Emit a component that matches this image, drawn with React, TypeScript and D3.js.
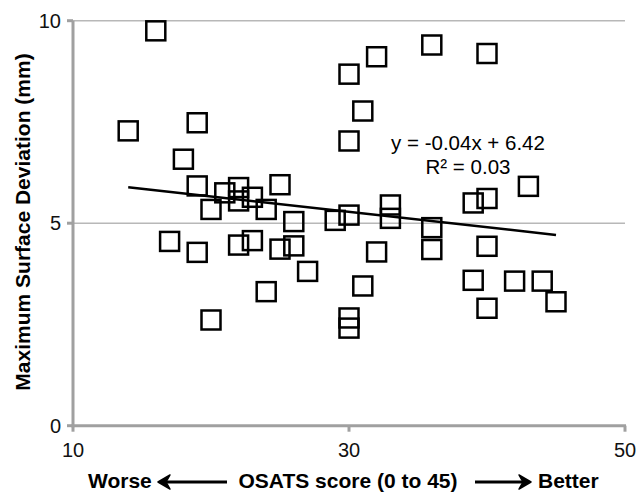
import React from "react";
import * as d3 from "d3";

const osats = [16, 14, 19, 18, 19, 21, 22, 22, 23, 20, 24, 25, 26, 17, 19, 22, 23, 25, 26, 27, 24, 20, 29, 30, 30, 32, 36, 40, 31, 30, 33, 33, 36, 39, 40, 43, 32, 36, 40, 31, 30, 30, 39, 42, 44, 45, 40];
const deviation = [9.75, 7.28, 7.48, 6.58, 5.92, 5.75, 5.88, 5.55, 5.64, 5.34, 5.34, 5.95, 5.04, 4.55, 4.28, 4.46, 4.57, 4.36, 4.44, 3.81, 3.31, 2.61, 5.07, 5.2, 8.68, 9.11, 9.4, 9.19, 7.77, 7.03, 5.45, 5.12, 4.89, 5.5, 5.61, 5.91, 4.29, 4.35, 4.43, 3.45, 2.66, 2.41, 3.59, 3.57, 3.57, 3.06, 2.9];
const xTicks = [10, 30, 50];
const yTicks = [0, 5, 10];
const gridValues = [5, 10];
const trendSlope = -0.038;
const trendIntercept = 6.42;
const trendRange = [14, 45];
const equationLines = ["y = -0.04x + 6.42", "R² = 0.03"];

export default function App() {
  const W = 638, H = 492;
  const x = d3.scaleLinear().domain([10, 50]).range([73, 625]);
  const y = d3.scaleLinear().domain([0, 10]).range([425.7, 20.7]);
  const data = osats.map((v, i) => ({ x: v, y: deviation[i] }));
  const trend = d3.line<number>().x((d) => x(d)).y((d) => y(trendSlope * d + trendIntercept));
  const s = 19;
  const font = "Liberation Sans, Arial, sans-serif";
  const axisColor = "#a0a0a0";
  return (
    <svg width={W} height={H} style={{ position: "absolute", left: 0, top: 0, background: "#fff" }} fontFamily={font}>
      {gridValues.map((g) => (
        <line key={g} x1={x(10)} x2={x(50)} y1={y(g)} y2={y(g)} stroke="#b8b8b8" strokeWidth={1.5} />
      ))}
      {/* axes */}
      <line x1={x(10)} x2={x(10)} y1={y(10)} y2={y(0) + 1.5} stroke={axisColor} strokeWidth={3} />
      <line x1={x(10) - 1.5} x2={x(50) + 1} y1={y(0)} y2={y(0)} stroke={axisColor} strokeWidth={3} />
      {yTicks.map((t) => (
        <g key={t}>
          <line x1={x(10) - 6} x2={x(10)} y1={y(t)} y2={y(t)} stroke={axisColor} strokeWidth={3} />
          <text x={61} y={y(t)} dy="0.36em" textAnchor="end" fontSize={20} fill="#111">{t}</text>
        </g>
      ))}
      {xTicks.map((t) => (
        <g key={t}>
          <line x1={x(t)} x2={x(t)} y1={y(0)} y2={y(0) + 6} stroke={axisColor} strokeWidth={3} />
          <text x={x(t)} y={456.7} textAnchor="middle" fontSize={20} fill="#111">{t}</text>
        </g>
      ))}
      {/* points */}
      {data.map((d, i) => (
        <rect key={i} x={x(d.x) - s / 2} y={y(d.y) - s / 2} width={s} height={s} fill="none" stroke="#000" strokeWidth={2.5} />
      ))}
      {/* trend */}
      <path d={trend(trendRange) || ""} stroke="#000" strokeWidth={2.5} fill="none" />
      <text x={468} y={150} textAnchor="middle" fontSize={20.5} fill="#000">{equationLines[0]}</text>
      <text x={468} y={174} textAnchor="middle" fontSize={20.5} fill="#000">{equationLines[1]}</text>
      {/* y title */}
      <text transform="translate(30,222) rotate(-90)" textAnchor="middle" fontSize={21} fontWeight="bold" fill="#000">
        Maximum Surface Deviation (mm)
      </text>
      {/* x title row */}
      <text x={88} y={488} fontSize={21} fontWeight="bold" fill="#000">Worse</text>
      <text x={348} y={488} textAnchor="middle" fontSize={21} fontWeight="bold" fill="#000">OSATS score (0 to 45)</text>
      <text x={538} y={488} fontSize={21} fontWeight="bold" fill="#000">Better</text>
      <line x1={162} x2={227} y1={482} y2={482} stroke="#000" strokeWidth={3} />
      <path d="M158,482 L170,475 L166,482 L170,489 Z" fill="#000" stroke="#000" strokeWidth={1.5} strokeLinejoin="round" />
      <line x1={475} x2={526} y1={482} y2={482} stroke="#000" strokeWidth={3} />
      <path d="M531,482 L519,475 L523,482 L519,489 Z" fill="#000" stroke="#000" strokeWidth={1.5} strokeLinejoin="round" />
    </svg>
  );
}
